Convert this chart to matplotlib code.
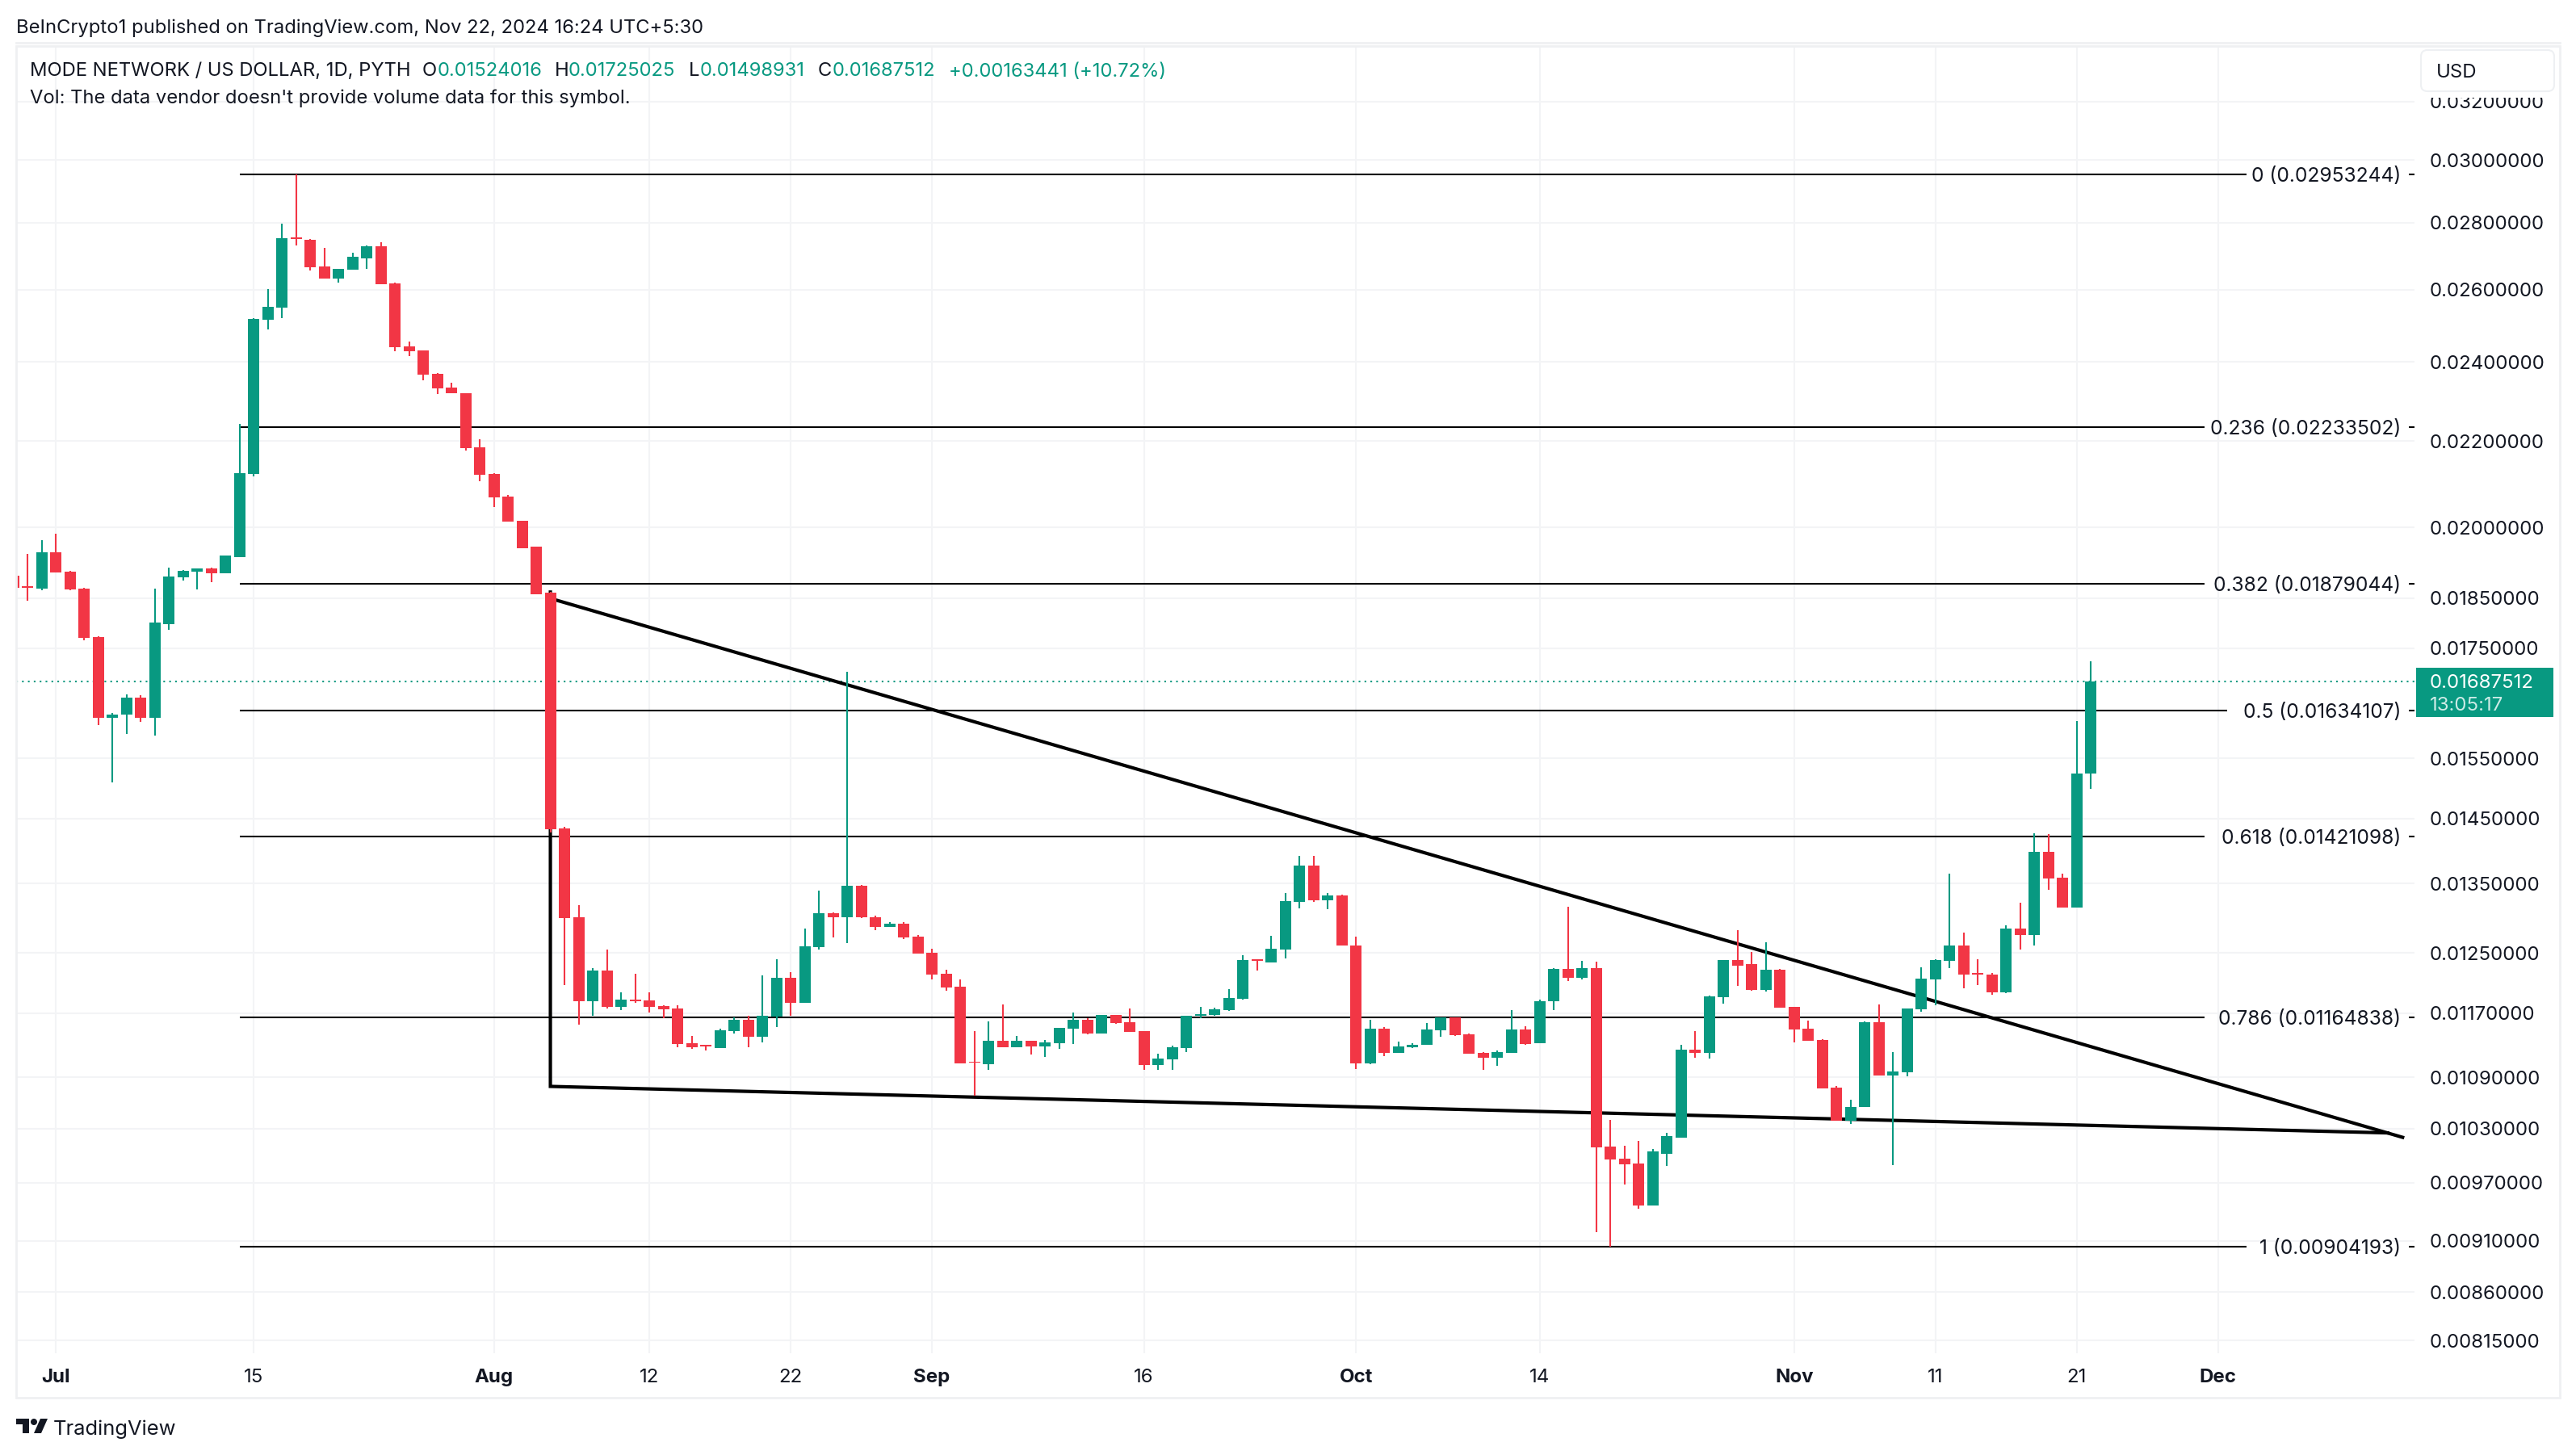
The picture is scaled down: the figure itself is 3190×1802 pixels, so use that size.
import matplotlib
matplotlib.use('Agg')
import matplotlib.pyplot as plt
from matplotlib.patches import Rectangle, Polygon, Circle, FancyBboxPatch

plt.rcParams['font.family'] = ['Inter', 'DejaVu Sans']

# Daily candles, prices in units of 0.00001. First candle is 28 Jun 2024 (day -3)
first_day = -3
opens = [1896, 1874, 1869, 1945, 1904, 1869, 1771, 1621, 1627, 1657, 1621, 1798, 1892, 1904, 1911, 1901, 1935, 2121, 2515, 2549,
         2754, 2746, 2667, 2632, 2657, 2690, 2727, 2618, 2442, 2431, 2370, 2333, 2320, 2184, 2121, 2069, 2014, 1957, 1860, 1435,
         1300, 1185, 1226, 1178, 1188, 1186, 1179, 1176, 1132, 1130, 1126, 1147, 1161, 1140, 1165, 1216, 1183, 1258, 1306, 1300,
         1347, 1301, 1287, 1291, 1273, 1250, 1222, 1204, 1109, 1106, 1135, 1127, 1135, 1128, 1132, 1150, 1161, 1144, 1168, 1158,
         1147, 1105, 1112, 1126, 1166, 1168, 1174, 1189, 1242, 1237, 1255, 1323, 1377, 1325, 1332, 1260, 1107, 1150, 1120, 1127,
         1130, 1148, 1164, 1143, 1120, 1114, 1120, 1149, 1132, 1185, 1228, 1216, 1230, 1010, 996, 991, 946, 1002, 1020, 1124,
         1120, 1191, 1240, 1235, 1200, 1227, 1178, 1150, 1136, 1078, 1039, 1055, 1158, 1092, 1096, 1175, 1214, 1239, 1261, 1223,
         1221, 1197, 1284, 1275, 1398, 1358, 1314, 1524]
highs = [1896, 1942, 1971, 1985, 1906, 1870, 1773, 1630, 1663, 1662, 1869, 1913, 1908, 1911, 1913, 1939, 2241, 2519, 2601, 2796,
         2953, 2749, 2722, 2660, 2707, 2729, 2739, 2620, 2455, 2431, 2372, 2345, 2320, 2204, 2123, 2073, 2014, 1957, 1862, 1437,
         1318, 1229, 1255, 1197, 1222, 1197, 1180, 1180, 1141, 1130, 1150, 1164, 1166, 1220, 1242, 1224, 1284, 1339, 1308, 1705,
         1348, 1303, 1294, 1293, 1275, 1256, 1227, 1214, 1147, 1159, 1181, 1141, 1135, 1136, 1151, 1171, 1163, 1168, 1168, 1176,
         1147, 1119, 1129, 1167, 1178, 1177, 1201, 1247, 1242, 1274, 1336, 1391, 1392, 1336, 1333, 1273, 1161, 1152, 1134, 1132,
         1157, 1164, 1164, 1144, 1121, 1123, 1174, 1153, 1188, 1229, 1316, 1239, 1238, 1040, 1011, 1016, 1007, 1025, 1130, 1147,
         1193, 1240, 1282, 1252, 1265, 1228, 1178, 1160, 1137, 1079, 1063, 1159, 1181, 1121, 1176, 1231, 1242, 1365, 1279, 1242,
         1223, 1289, 1321, 1427, 1426, 1365, 1615, 1725]
lows = [1870, 1844, 1865, 1903, 1865, 1765, 1608, 1509, 1592, 1614, 1589, 1786, 1886, 1867, 1882, 1901, 1935, 2116, 2488, 2519,
        2729, 2655, 2632, 2620, 2657, 2660, 2615, 2429, 2416, 2353, 2316, 2318, 2176, 2104, 2046, 2012, 1955, 1858, 1428, 1207,
        1155, 1166, 1176, 1174, 1183, 1171, 1163, 1127, 1125, 1123, 1126, 1144, 1127, 1133, 1152, 1166, 1183, 1255, 1272, 1264,
        1299, 1282, 1287, 1270, 1249, 1214, 1199, 1107, 1068, 1099, 1127, 1127, 1118, 1115, 1125, 1131, 1143, 1144, 1156, 1146,
        1099, 1099, 1099, 1121, 1163, 1166, 1173, 1188, 1226, 1237, 1243, 1313, 1323, 1312, 1260, 1100, 1106, 1116, 1120, 1126,
        1130, 1140, 1141, 1119, 1099, 1104, 1120, 1130, 1132, 1174, 1212, 1214, 919, 904, 968, 943, 946, 988, 1020, 1114,
        1113, 1182, 1206, 1199, 1198, 1177, 1133, 1135, 1077, 1039, 1035, 1055, 1092, 989, 1091, 1172, 1180, 1229, 1202, 1207,
        1194, 1196, 1255, 1261, 1341, 1314, 1314, 1499]
closes = [1870, 1870, 1945, 1903, 1867, 1770, 1621, 1627, 1657, 1621, 1800, 1894, 1906, 1911, 1901, 1939, 2123, 2517, 2551, 2751,
          2749, 2665, 2632, 2660, 2695, 2727, 2615, 2440, 2429, 2368, 2331, 2318, 2182, 2119, 2067, 2012, 1955, 1858, 1433, 1299,
          1185, 1226, 1178, 1188, 1185, 1178, 1175, 1131, 1127, 1128, 1148, 1161, 1140, 1166, 1216, 1183, 1259, 1306, 1300, 1347,
          1300, 1287, 1291, 1272, 1249, 1221, 1203, 1107, 1108, 1135, 1127, 1135, 1128, 1133, 1151, 1161, 1144, 1168, 1157, 1146,
          1105, 1113, 1127, 1166, 1169, 1175, 1190, 1240, 1239, 1256, 1324, 1377, 1325, 1332, 1260, 1107, 1150, 1120, 1128, 1130,
          1149, 1164, 1142, 1119, 1114, 1121, 1149, 1131, 1185, 1228, 1216, 1230, 1009, 995, 990, 946, 1004, 1021, 1124, 1120,
          1192, 1240, 1233, 1200, 1227, 1177, 1149, 1135, 1077, 1039, 1055, 1158, 1092, 1097, 1176, 1215, 1240, 1261, 1221, 1221,
          1197, 1284, 1275, 1398, 1357, 1314, 1524, 1687.5]

price_ticks = [0.032, 0.030, 0.028, 0.026, 0.024, 0.022, 0.020, 0.0185, 0.0175, 0.0155, 0.0145,
               0.0135, 0.0125, 0.0117, 0.0109, 0.0103, 0.0097, 0.0091, 0.0086, 0.00815]

# days counted from 1 Jul 2024
date_ticks = [0, 14, 31, 42, 52, 62, 77, 92, 105, 123, 133, 143, 153]
date_labels = ['Jul', '15', 'Aug', '12', '22', 'Sep', '16', 'Oct', '14', 'Nov', '11', '21', 'Dec']
month_labels = ['Jul', 'Aug', 'Sep', 'Oct', 'Nov', 'Dec']

fib_ratios = ['0', '0.236', '0.382', '0.5', '0.618', '0.786', '1']
fib_prices = [0.02953244, 0.02233502, 0.01879044, 0.01634107, 0.01421098, 0.01164838, 0.00904193]
fib_line_ends = [155.0, 152.06, 152.06, 153.66, 152.06, 152.06, 155.0]
fib_start = 13

# wedge drawn on the chart: (day, price)
upper_days = [35, 166.06]
upper_prices = [0.01849, 0.01020]
lower_days = [35, 35, 165.0]
lower_prices = [0.01862, 0.01079, 0.01025]

last_price = 0.01687512

GREEN = '#089981'
RED = '#F23645'
TEXT = '#131722'
GRID = '#F3F4F6'
FRAME = '#EFF0F2'

W, H = 3190, 1802
fig = plt.figure(figsize=(W / 100, H / 100), dpi=100, facecolor='white')

# chart area: x 20..2990 px, y 57..1676 px
ax = fig.add_axes([20 / W, (H - 1676) / H, 2970 / W, 1619 / H])
ax.set_yscale('log')
ax.set_xlim(-2.8, 166.9)
ax.set_ylim(0.008037, 0.03402)
ax.minorticks_off()
for side in ax.spines:
    ax.spines[side].set_visible(False)

ax.yaxis.tick_right()
ax.set_yticks(price_ticks)
ax.set_yticklabels(['%.8f' % p for p in price_ticks], fontsize=17.3, color=TEXT)
ax.set_xticks(date_ticks)
ax.set_xticklabels(date_labels, fontsize=17.3, color=TEXT)
for lab in ax.get_xticklabels():
    if lab.get_text() in month_labels:
        lab.set_fontweight('bold')
ax.tick_params(axis='y', which='both', length=0, pad=13.5)
ax.tick_params(axis='x', which='both', length=0, pad=13.7)
ax.set_axisbelow(True)
ax.grid(True, color=GRID, linewidth=1.5)

# fib levels
for ratio, price, end in zip(fib_ratios, fib_prices, fib_line_ends):
    ax.plot([fib_start, end], [price, price], color='black', lw=1.5, zorder=2, solid_capstyle='butt')
    ax.plot([166.5, 166.9], [price, price], color='black', lw=1.5, zorder=2, solid_capstyle='butt')
    ax.text(165.95, price, '%s (%.8f)' % (ratio, price), ha='right', va='center_baseline',
            fontsize=17.7, color=TEXT)

ax.axhline(last_price, color=GREEN, lw=1.5, linestyle=(0, (1, 2.5)), zorder=1.5)
ax.plot(upper_days, upper_prices, color='black', lw=3, zorder=2.5)
ax.plot(lower_days, lower_prices, color='black', lw=3, zorder=2.5, solid_joinstyle='miter')

# candles
for i in range(len(opens)):
    day = first_day + i
    o, h, l, c = opens[i] * 1e-5, highs[i] * 1e-5, lows[i] * 1e-5, closes[i] * 1e-5
    col = GREEN if closes[i] >= opens[i] else RED
    ax.vlines(day, l, h, color=col, lw=1.5, zorder=4)
    ax.bar(day, abs(c - o), bottom=min(o, c), width=0.8, color=col, linewidth=0, zorder=5)

# everything around the chart is placed in pixels on a full figure overlay
ov = fig.add_axes([0, 0, 1, 1], zorder=5)
ov.set_xlim(0, W)
ov.set_ylim(H, 0)
ov.axis('off')

ov.add_patch(Rectangle((20, 57), 3150, 1674, fill=False, edgecolor=FRAME, lw=2))
ov.plot([20, 3170], [53, 53], color=FRAME, lw=2)

# hides the part of the top price label under the USD button
ov.add_patch(Rectangle((2995, 59), 172, 62, facecolor='white', edgecolor='none'))
ov.add_patch(FancyBboxPatch((3006, 70), 149, 35, boxstyle='round,pad=8,rounding_size=8',
                            facecolor='white', edgecolor='#EEF0F3', lw=1.5))
ov.text(3017, 87, 'USD', fontsize=17.3, color=TEXT, va='center_baseline')

ov.add_patch(Rectangle((2992, 827), 170, 61, facecolor=GREEN, edgecolor='none'))
ov.text(3009, 844, '0.01687512', fontsize=17.3, color='white', va='center_baseline')
ov.text(3009, 871, '13:05:17', fontsize=17.3, color='#CDEBE6', va='center_baseline')

ov.text(20, 32, 'BeInCrypto1 published on TradingView.com, Nov 22, 2024 16:24 UTC+5:30',
        fontsize=17.1, color=TEXT, va='center_baseline')
ov.text(37, 86, 'MODE NETWORK / US DOLLAR, 1D, PYTH', fontsize=17.1, color=TEXT, va='center_baseline')
ov.text(37, 119, "Vol: The data vendor doesn't provide volume data for this symbol.",
        fontsize=17.1, color=TEXT, va='center_baseline')
for x, s in [(523, 'O'), (687, 'H'), (853, 'L'), (1013, 'C')]:
    ov.text(x, 86, s, fontsize=17.1, color=TEXT, va='center_baseline')
for x, s in [(542, '0.01524016'), (704, '0.01725025'), (867, '0.01498931'), (1031, '0.01687512'),
             (1175, '+0.00163441 (+10.72%)')]:
    ov.text(x, 86, s, fontsize=17.1, color=GREEN, va='center_baseline')

# TradingView logo
ov.add_patch(Polygon([(20, 1757), (36, 1757), (36, 1775), (28, 1775), (28, 1764), (20, 1764)],
                     facecolor=TEXT, edgecolor='none'))
ov.add_patch(Circle((42, 1761), 4, facecolor=TEXT, edgecolor='none'))
ov.add_patch(Polygon([(50, 1757), (59, 1757), (51, 1775), (42, 1775)], facecolor=TEXT, edgecolor='none'))
ov.text(66, 1768, 'TradingView', fontsize=18.4, color=TEXT, va='center_baseline')

plt.savefig('out.png', dpi=100)
